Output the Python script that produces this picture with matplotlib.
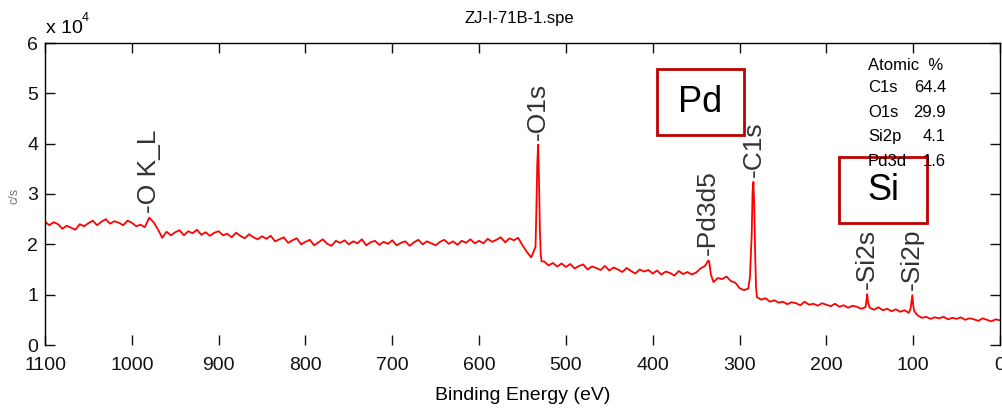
import numpy as np
import matplotlib

matplotlib.use("Agg")
import matplotlib.pyplot as plt
from matplotlib.patches import Rectangle

plt.rcParams["font.family"] = ["Liberation Sans Narrow", "Liberation Sans"]

# Survey scan, intensity in units of 1e4 c/s, read every 5 eV from 1100 eV down to 0 eV
grid_ev = np.arange(1100, -1, -5)
grid_cps = [
    2.45, 2.38, 2.44, 2.40, 2.31, 2.37, 2.33, 2.29, 2.40, 2.36,  # 1100-1055
    2.42, 2.47, 2.38, 2.45, 2.50, 2.41, 2.46, 2.43, 2.38, 2.47,  # 1050-1005
    2.43, 2.36, 2.39, 2.34, 2.53, 2.44, 2.30, 2.13, 2.25, 2.18,  # 1000-955
    2.24, 2.28, 2.18, 2.26, 2.22, 2.29, 2.19, 2.24, 2.17, 2.23,  # 950-905
    2.26, 2.18, 2.21, 2.14, 2.23, 2.17, 2.12, 2.20, 2.14, 2.10,  # 900-855
    2.16, 2.11, 2.17, 2.06, 2.10, 2.14, 2.03, 2.08, 2.12, 2.00,  # 850-805
    2.05, 2.09, 1.98, 2.04, 2.10, 2.01, 1.97, 2.07, 2.03, 2.08,  # 800-755
    2.00, 2.06, 2.02, 2.10, 1.98, 2.04, 2.07, 1.99, 2.05, 2.01,  # 750-705
    2.08, 1.98, 2.03, 2.06, 1.97, 2.04, 2.09, 2.00, 2.06, 2.02,  # 700-655
    1.98, 2.05, 2.09, 2.01, 2.06, 1.99, 2.07, 2.03, 2.10, 2.02,  # 650-605
    2.07, 2.02, 2.11, 2.05, 2.09, 2.14, 2.04, 2.12, 2.08, 2.13,  # 600-555
    1.98, 1.85, 1.74, 1.95, 2.30, 1.66, 1.58, 1.63, 1.56, 1.62,  # 550-505
    1.55, 1.61, 1.52, 1.57, 1.60, 1.50, 1.56, 1.53, 1.49, 1.57,  # 500-455
    1.48, 1.54, 1.50, 1.45, 1.53, 1.47, 1.42, 1.50, 1.46, 1.49,  # 450-405
    1.42, 1.48, 1.40, 1.46, 1.43, 1.38, 1.47, 1.41, 1.45, 1.40,  # 400-355
    1.44, 1.52, 1.57, 1.66, 1.25, 1.33, 1.31, 1.36, 1.27, 1.24,  # 350-305
    1.13, 1.09, 1.12, 3.05, 0.95, 0.90, 0.93, 0.86, 0.89, 0.84,  # 300-255
    0.86, 0.81, 0.85, 0.83, 0.79, 0.86, 0.80, 0.82, 0.78, 0.83,  # 250-205
    0.80, 0.77, 0.82, 0.76, 0.79, 0.74, 0.78, 0.76, 0.72, 0.75,  # 200-155
    0.74, 0.70, 0.75, 0.69, 0.72, 0.67, 0.71, 0.66, 0.69, 0.64,  # 150-105
    0.80, 0.59, 0.54, 0.56, 0.52, 0.55, 0.53, 0.56, 0.51, 0.54,  # 100-55
    0.52, 0.55, 0.50, 0.53, 0.51, 0.48, 0.53, 0.50, 0.47, 0.51,  # 50-5
    0.49,                                                        # 0
]

# extra points through the narrow core-level peaks
peak_ev = [534, 533, 532, 531, 529, 528,
           338, 336, 333,
           288, 286, 284, 283, 282, 281,
           154, 153, 152,
           103, 102, 101, 99]
peak_cps = [2.70, 3.60, 3.98, 3.30, 1.80, 1.66,
            1.62, 1.68, 1.40,
            1.35, 2.20, 3.24, 2.70, 1.80, 1.15,
            0.85, 1.01, 0.84,
            0.72, 0.85, 0.99, 0.68]

line_names = ["O K_L", "O1s", "Pd3d5", "C1s", "Si2s", "Si2p"]
line_ev = [980, 532, 336, 284, 153, 101]

atomic_names = ["C1s", "O1s", "Si2p", "Pd3d"]
atomic_pct = [64.4, 29.9, 4.1, 1.6]

energy = np.concatenate([grid_ev, peak_ev])
cps = np.concatenate([grid_cps, peak_cps])
order = np.argsort(-energy)
energy, cps = energy[order], cps[order]

W, H = 1003, 408
fig = plt.figure(figsize=(W / 100, H / 100), dpi=100)
ax = fig.add_axes([45 / W, 63 / H, 955 / W, 302 / H])

ax.plot(energy, cps, color="#ff0000", lw=1.3)
ax.set_xlim(1100, 0)
ax.set_ylim(0, 6)
ax.set_xticks(np.arange(1100, -1, -100))
ax.set_yticks(np.arange(0, 7))
ax.spines["bottom"].set_visible(False)
for s in ("top", "left", "right"):
    ax.spines[s].set_linewidth(1.0)
ax.tick_params(direction="in", top=True, right=True, length=7, width=1.0,
               labelsize=14, colors="#111111")
ax.tick_params(axis="x", pad=9)
ax.tick_params(axis="y", pad=5)

ax.set_xlabel("Binding Energy (eV)", fontsize=14, labelpad=9)
fig.text(519 / W, 1 - 19 / H, "ZJ-I-71B-1.spe", fontsize=12, ha="center", va="center")
fig.text(46 / W, 1 - 33 / H, "x 10", fontsize=14, ha="left", va="baseline")
fig.text(82 / W, 1 - 21 / H, "4", fontsize=9, ha="left", va="baseline")
fig.text(15 / W, 1 - 196 / H, "c/s", fontsize=9, color="#777777",
         rotation=90, ha="center", va="center")

# line labels above each peak
for name, ev in zip(line_names, line_ev):
    near = np.abs(energy - ev) <= 3
    top = cps[near].max()
    ax.text(ev, top + 0.1, "-" + name, rotation=90, ha="center", va="bottom",
            fontsize=19, color="#333333", family="Liberation Sans")

# quantification table
fig.text(868 / W, 1 - 65 / H, "Atomic  %", fontsize=12, ha="left", va="center")
for i, (name, pct) in enumerate(zip(atomic_names, atomic_pct)):
    y = 1 - (88 + 24.5 * i) / H
    fig.text(868 / W, y, name, fontsize=12, ha="left", va="center")
    fig.text(946 / W, y, f"{pct:.1f}", fontsize=12, ha="right", va="center")

# element call-out boxes
for label, (x0, y0, x1, y1) in [("Pd", (657, 69, 744, 135)), ("Si", (839, 157, 927, 223))]:
    fig.patches.append(Rectangle((x0 / W, 1 - y1 / H), (x1 - x0) / W, (y1 - y0) / H,
                                 transform=fig.transFigure, fill=False,
                                 edgecolor="#c00000", lw=2))
    fig.text((x0 + x1) / 2 / W, 1 - (y0 + y1) / 2 / H, label, fontsize=26,
             ha="center", va="center", family="Liberation Sans")

fig.savefig("out.png", dpi=100)
